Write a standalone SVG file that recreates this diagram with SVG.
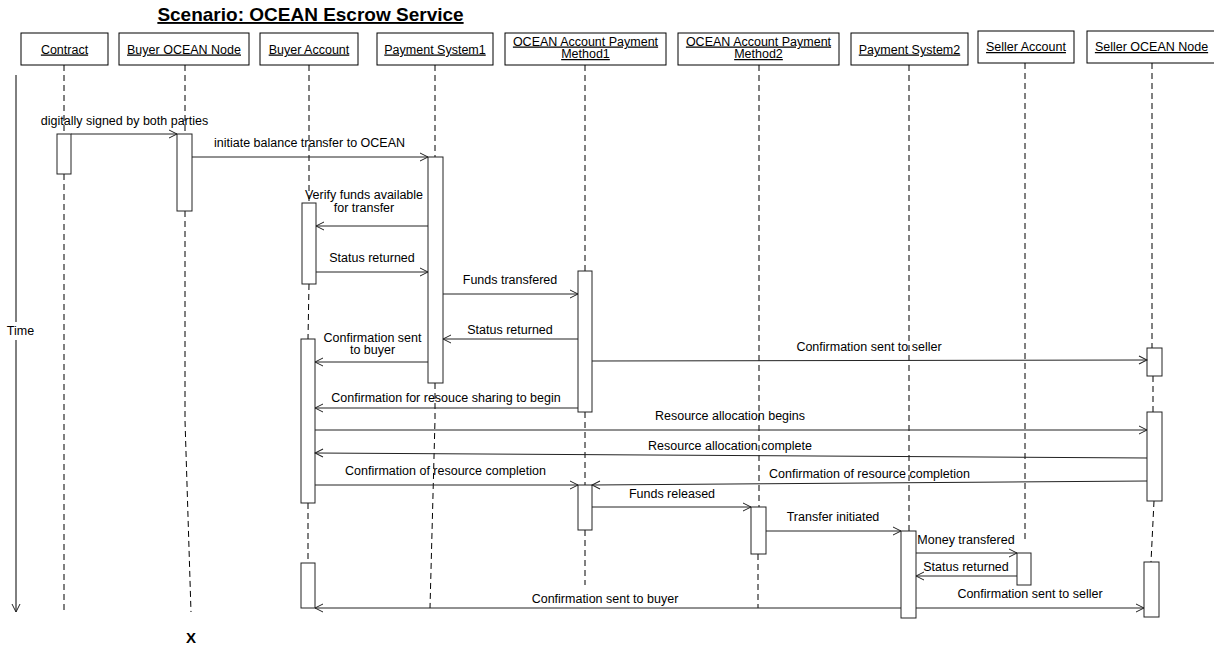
<svg xmlns="http://www.w3.org/2000/svg" width="1214" height="648" viewBox="0 0 1214 648">
<defs>
<style>
text{font-family:"Liberation Sans",Arial,sans-serif;font-size:12.5px;fill:#000;text-anchor:middle}
.hd{text-decoration:underline}
.title{font-size:19px;font-weight:bold;text-decoration:underline}
.box{fill:#fff;stroke:#000;stroke-width:1}
.bar{fill:#fff;stroke:#222;stroke-width:1}
.life{fill:none;stroke:#000;stroke-width:1;stroke-dasharray:6 4}
.msg{fill:none;stroke:#222;stroke-width:1;marker-end:url(#arr)}
.axis{fill:none;stroke:#000;stroke-width:1}
</style>
<marker id="arr" viewBox="0 0 10 10" refX="9" refY="5" markerWidth="10" markerHeight="10" markerUnits="userSpaceOnUse" orient="auto">
<path d="M1,1 L9,5 L1,9" fill="none" stroke="#222" stroke-width="1"/>
</marker>
</defs>
<rect width="1214" height="648" fill="#fff"/>
<text class="title" x="310.5" y="21">Scenario: OCEAN Escrow Service</text>

<g id="time-axis">
<line class="axis" x1="16" y1="75" x2="16" y2="322"/>
<line class="axis" x1="16" y1="340" x2="16" y2="612" marker-end="url(#arr)"/>
<text x="20.5" y="335">Time</text>
</g>

<g id="node-contract">
<line class="life" x1="64" y1="65" x2="64" y2="134"/>
<line class="life" x1="64" y1="174" x2="64" y2="612"/>
<rect class="box" x="21" y="33" width="87" height="32"/>
<text class="hd" x="64.5" y="53.5">Contract</text>
<rect class="bar" x="57" y="134" width="14" height="40"/>
</g>

<g id="node-buyer-ocean-node">
<line class="life" x1="185" y1="65" x2="185" y2="134"/>
<path class="life" d="M185,211 L185,420 L191,612"/>
<rect class="box" x="119" y="33" width="130" height="32"/>
<text class="hd" x="184" y="53.5">Buyer OCEAN Node</text>
<rect class="bar" x="177" y="134" width="15" height="77"/>
<text x="191" y="643" style="font-size:15px;font-weight:bold">X</text>
</g>

<g id="node-buyer-account">
<line class="life" x1="309" y1="65" x2="309" y2="203"/>
<line class="life" x1="309" y1="284" x2="308" y2="339"/>
<line class="life" x1="308" y1="503" x2="308" y2="563"/>
<rect class="box" x="260" y="33" width="98" height="32"/>
<text class="hd" x="309" y="53.5">Buyer Account</text>
<rect class="bar" x="302" y="203" width="14" height="81"/>
<rect class="bar" x="301" y="339" width="14" height="164"/>
<rect class="bar" x="301" y="563" width="14" height="45"/>
</g>

<g id="node-payment-system1">
<line class="life" x1="435" y1="65" x2="435" y2="157"/>
<path class="life" d="M435,383 L435,420 L430,608"/>
<rect class="box" x="377" y="33" width="116" height="32"/>
<text class="hd" x="435" y="53.5">Payment System1</text>
<rect class="bar" x="428" y="157" width="15" height="226"/>
</g>

<g id="node-ocean-method1">
<line class="life" x1="585" y1="65" x2="585" y2="271"/>
<line class="life" x1="585" y1="412" x2="585" y2="485"/>
<line class="life" x1="585" y1="530" x2="585" y2="585"/>
<rect class="box" x="505" y="33" width="161" height="32"/>
<text class="hd" x="585.5" y="45.5">OCEAN Account Payment</text>
<text class="hd" x="585.5" y="58">Method1</text>
<rect class="bar" x="578" y="271" width="14" height="141"/>
<rect class="bar" x="578" y="485" width="14" height="45"/>
</g>

<g id="node-ocean-method2">
<line class="life" x1="759" y1="65" x2="759" y2="507"/>
<line class="life" x1="758" y1="554" x2="758" y2="608"/>
<rect class="box" x="678" y="33" width="161" height="32"/>
<text class="hd" x="758.5" y="45.5">OCEAN Account Payment</text>
<text class="hd" x="758.5" y="58">Method2</text>
<rect class="bar" x="751" y="507" width="15" height="47"/>
</g>

<g id="node-payment-system2">
<line class="life" x1="909" y1="65" x2="909" y2="531"/>
<rect class="box" x="851" y="33" width="117" height="32"/>
<text class="hd" x="909.5" y="53.5">Payment System2</text>
<rect class="bar" x="901" y="531" width="15" height="87"/>
</g>

<g id="node-seller-account">
<line class="life" x1="1025" y1="63" x2="1025" y2="542"/>
<rect class="box" x="978" y="31" width="96" height="32"/>
<text class="hd" x="1026" y="51">Seller Account</text>
<rect class="bar" x="1017" y="553" width="14" height="32"/>
</g>

<g id="node-seller-ocean-node">
<line class="life" x1="1152" y1="63" x2="1152" y2="348"/>
<line class="life" x1="1153" y1="376" x2="1153" y2="412"/>
<path class="life" d="M1154,501 L1151,562"/>
<rect class="box" x="1087" y="31" width="130" height="32"/>
<text class="hd" x="1151.5" y="51">Seller OCEAN Node</text>
<rect class="bar" x="1147" y="348" width="15" height="28"/>
<rect class="bar" x="1147" y="412" width="15" height="89"/>
<rect class="bar" x="1144" y="562" width="15" height="55"/>
</g>

<g id="connectors">
<line class="msg" x1="71" y1="134" x2="177" y2="134"/>
<text x="124.5" y="124.5">digitally signed by both parties</text>

<line class="msg" x1="192" y1="157" x2="428" y2="157"/>
<text x="309.5" y="146.5">initiate balance transfer to OCEAN</text>

<line class="msg" x1="428" y1="226" x2="316" y2="226"/>
<text x="364" y="199">Verify funds available</text>
<text x="364" y="211.5">for transfer</text>

<line class="msg" x1="316" y1="272" x2="428" y2="272"/>
<text x="372" y="261.5">Status returned</text>

<line class="msg" x1="443" y1="294" x2="578" y2="294"/>
<text x="510" y="283.5">Funds transfered</text>

<line class="msg" x1="578" y1="339" x2="443" y2="339"/>
<text x="510" y="333.5">Status returned</text>

<line class="msg" x1="428" y1="362" x2="315" y2="362"/>
<text x="372.5" y="341.5">Confirmation sent</text>
<text x="372.5" y="353.5">to buyer</text>

<line class="msg" x1="592" y1="361" x2="1147" y2="360"/>
<text x="869" y="350.5">Confirmation sent to seller</text>

<line class="msg" x1="578" y1="408" x2="315" y2="408"/>
<text x="446" y="401.5">Confirmation for resouce sharing to begin</text>

<line class="msg" x1="315" y1="430" x2="1147" y2="430"/>
<text x="730" y="419.5">Resource allocation begins</text>

<line class="msg" x1="1147" y1="458" x2="315" y2="453"/>
<text x="730" y="449.5">Resource allocation complete</text>

<line class="msg" x1="315" y1="485" x2="578" y2="485"/>
<text x="445.5" y="474.5">Confirmation of resource completion</text>

<line class="msg" x1="1147" y1="481" x2="592" y2="485"/>
<text x="869.5" y="477.5">Confirmation of resource completion</text>

<line class="msg" x1="592" y1="507" x2="751" y2="507"/>
<text x="672" y="497.5">Funds released</text>

<line class="msg" x1="766" y1="531" x2="901" y2="531"/>
<text x="833" y="520.5">Transfer initiated</text>

<line class="msg" x1="916" y1="553" x2="1017" y2="553"/>
<text x="966" y="543.5">Money transfered</text>

<line class="msg" x1="1017" y1="576" x2="916" y2="576"/>
<text x="966" y="570.5">Status returned</text>

<line class="msg" x1="916" y1="608" x2="1144" y2="608"/>
<text x="1030" y="597.5">Confirmation sent to seller</text>

<line class="msg" x1="901" y1="608" x2="315" y2="608"/>
<text x="605" y="602.5">Confirmation sent to buyer</text>
</g>
</svg>
